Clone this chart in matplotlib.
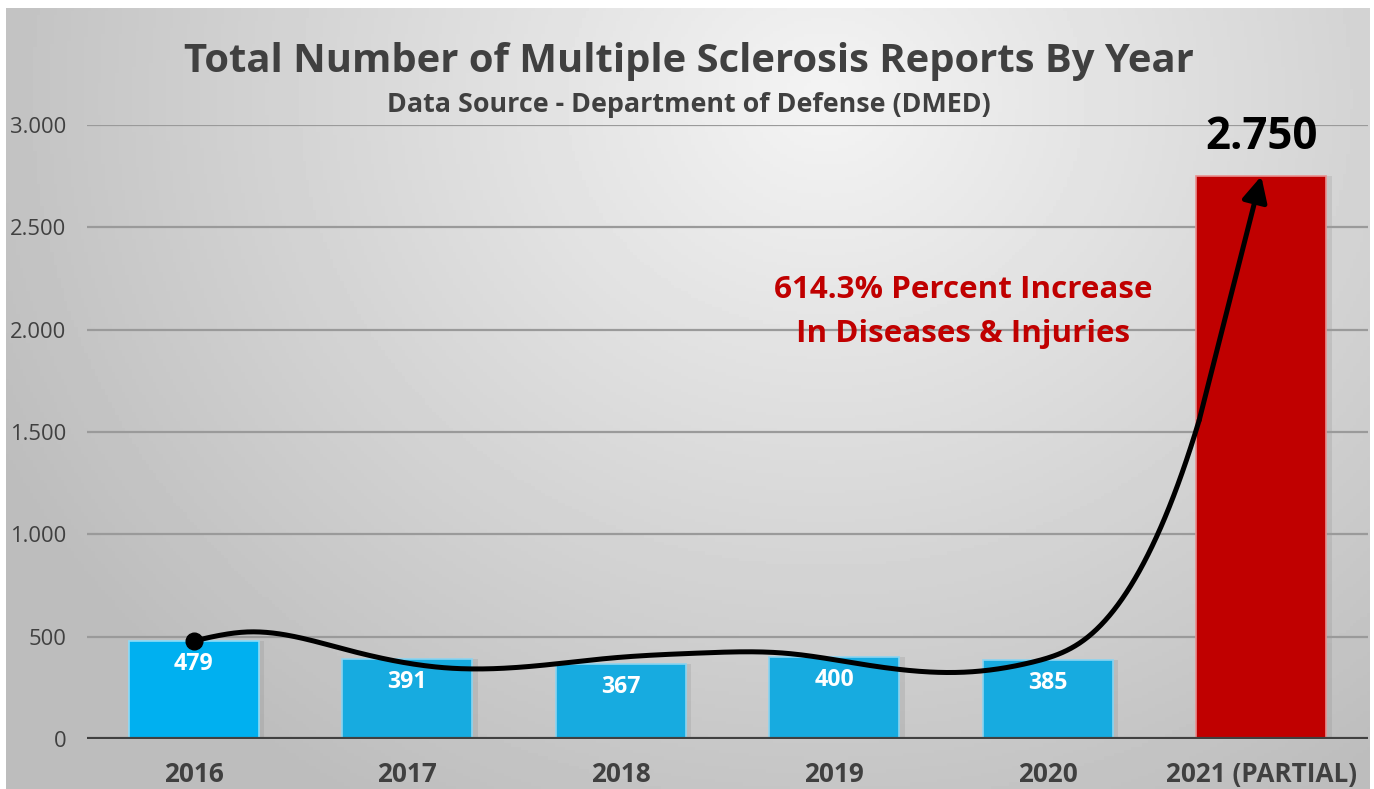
import numpy as np
import matplotlib
matplotlib.use("Agg")
import matplotlib.pyplot as plt
from matplotlib.ticker import FuncFormatter

plt.rcParams['font.family'] = ['Open Sans', 'DejaVu Sans']

years = ["2016", "2017", "2018", "2019", "2020", "2021 (PARTIAL)"]
reports = [479, 391, 367, 400, 385, 2750]
bar_colors = ["#00B0F0", "#17ABE0", "#17ABE0", "#17ABE0", "#17ABE0", "#C00000"]
edge_colors = ["#8CDCF8", "#8CD4F0", "#8CD4F0", "#8CD4F0", "#8CD4F0", "#E89090"]
y_ticks = [0, 500, 1000, 1500, 2000, 2500, 3000]

# hand drawn trend arrow (x = bar index, y = reports)
trend_x = [0.0, 0.25, 0.72, 1.19, 1.65, 1.96, 2.37, 2.76, 3.15, 3.62, 3.93,
           4.17, 4.48, 4.71, 5.0]
trend_y = [479, 523, 435, 347, 362, 396, 420, 420, 362, 327, 376,
           484, 923, 1560, 2750]

title = "Total Number of Multiple Sclerosis Reports By Year"
subtitle = "Data Source - Department of Defense (DMED)"
note_lines = ["614.3% Percent Increase", "In Diseases & Injuries"]

DARK = "#404040"


def natural_spline(x, y, xs):
    x = np.asarray(x, float)
    y = np.asarray(y, float)
    n = len(x)
    h = np.diff(x)
    A = np.zeros((n, n))
    r = np.zeros(n)
    A[0, 0] = 1
    A[-1, -1] = 1
    for i in range(1, n - 1):
        A[i, i - 1] = h[i - 1]
        A[i, i] = 2 * (h[i - 1] + h[i])
        A[i, i + 1] = h[i]
        r[i] = 3 * ((y[i + 1] - y[i]) / h[i] - (y[i] - y[i - 1]) / h[i - 1])
    c = np.linalg.solve(A, r)
    b = (y[1:] - y[:-1]) / h - h * (2 * c[:-1] + c[1:]) / 3
    d = (c[1:] - c[:-1]) / (3 * h)
    idx = np.clip(np.searchsorted(x, xs) - 1, 0, n - 2)
    t = xs - x[idx]
    return y[idx] + b[idx] * t + c[idx] * t ** 2 + d[idx] * t ** 3


fig = plt.figure(figsize=(13.74, 7.89), dpi=100)
fig.patch.set_facecolor("white")

# grey radial background like the office chart area
bg = fig.add_axes([6 / 1374, 0, 1364 / 1374, 781 / 789], zorder=-5)
gx, gy = np.meshgrid(np.linspace(0, 1364, 400), np.linspace(0, 781, 240))
dist = np.sqrt(((gx - 820) / 900) ** 2 + ((gy - 90) / 800) ** 2)
shade = np.clip(0.955 - 0.21 * dist, 0.74, 0.96)
bg.imshow(shade, cmap="gray", vmin=0, vmax=1, aspect="auto",
          extent=[0, 1, 0, 1], origin="upper")
bg.set_axis_off()

ax = fig.add_axes([87 / 1374, 50 / 789, 1281 / 1374, 614 / 789])
ax.set_facecolor("none")

xpos = np.arange(len(years))

# soft shadow behind the bars
ax.bar(xpos + 0.025, reports, width=0.61, color="#808080", alpha=0.2, zorder=1,
       linewidth=0)
ax.bar(xpos, reports, width=0.61, color=bar_colors, edgecolor=edge_colors,
       linewidth=1.2, zorder=2)

ax.set_xlim(-0.5, 5.5)
ax.set_ylim(0, 3000)
ax.set_yticks(y_ticks)
ax.yaxis.set_major_formatter(FuncFormatter(lambda v, p: f"{int(v):,}".replace(",", ".")))
ax.set_xticks(xpos)
ax.set_xticklabels(years, fontsize=18.8, fontweight="bold", color=DARK)
ax.tick_params(axis="x", length=0, pad=16)
ax.tick_params(axis="y", length=0, pad=15, labelsize=15.8, labelcolor=DARK)
for s in ax.spines.values():
    s.set_visible(False)
ax.grid(axis="y", color="#9a9a9a", linewidth=1.6, zorder=0)
ax.axhline(0, color=DARK, linewidth=3, zorder=3)

for i, v in enumerate(reports[:-1]):
    ax.annotate(str(v), (xpos[i], v), xytext=(0, -8), textcoords="offset points",
                ha="center", va="top", color="white", fontsize=16.7,
                fontweight="bold", zorder=4)
ax.annotate(f"{reports[-1]:,}".replace(",", "."), (xpos[-1], reports[-1]),
            xytext=(0, 19.5), textcoords="offset points", ha="center",
            va="baseline", color="black", fontsize=31.5, fontweight="bold")

# trend curve with arrow head on the last bar
xs = np.linspace(trend_x[0], trend_x[-1], 500)
ys = natural_spline(trend_x, trend_y, xs)
k = 470
ax.plot(xs[:k + 1], ys[:k + 1], color="black", linewidth=3.6, zorder=5,
        solid_capstyle="round")
ax.annotate("", xy=(xs[-1], ys[-1]), xytext=(xs[k], ys[k]),
            arrowprops=dict(arrowstyle="-|>", color="black", lw=3.6,
                            mutation_scale=38, shrinkA=0, shrinkB=0),
            zorder=6)
ax.plot([xpos[0]], [reports[0]], "o", color="black", markersize=12, zorder=6)

ax.text(3.604, 2155, note_lines[0], ha="center", va="baseline", color="#C00000",
        fontsize=22.6, fontweight="bold")
ax.text(3.604, 1940, note_lines[1], ha="center", va="baseline", color="#C00000",
        fontsize=22.6, fontweight="bold")

fig.text(0.5015, 1 - 72 / 789, title, ha="center", va="baseline", color=DARK,
         fontsize=28.8, fontweight="bold")
fig.text(0.5015, 1 - 112 / 789, subtitle, ha="center", va="baseline", color=DARK,
         fontsize=19.4, fontweight="bold")

fig.savefig("out.png", dpi=100)
